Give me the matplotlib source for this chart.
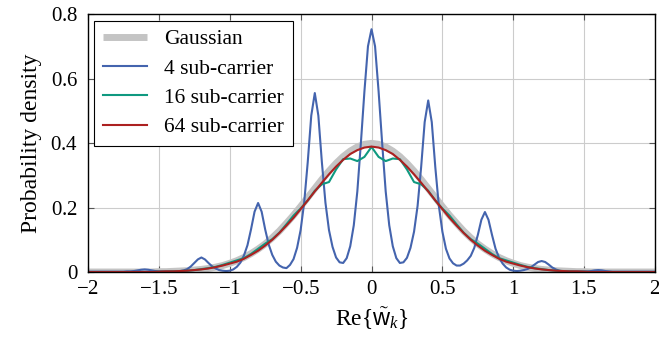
import numpy as np
import matplotlib
matplotlib.use("Agg")
import matplotlib.pyplot as plt
from matplotlib.ticker import FuncFormatter

"""
  PDF of Re{w_k} for different numbers of sub-carriers
"""
plt.rcParams['font.family'] = ['Liberation Serif', 'DejaVu Serif']
plt.rcParams['mathtext.fontset'] = 'custom'
plt.rcParams['mathtext.rm'] = 'Liberation Serif'
plt.rcParams['mathtext.it'] = 'Liberation Serif:italic'
plt.rcParams['mathtext.sf'] = 'Liberation Sans'

# x grid of the 4 sub-carrier curve: -2 .. 2 in steps of 0.025
x_fine = np.linspace(-2, 2, 161)
pdf_4 = [
    0.001, 0.001, 0.001, 0.001, 0.001, 0.001, 0.001, 0.001, 0.001, 0.001,
    0.001, 0.002, 0.002, 0.003, 0.005, 0.007, 0.008, 0.007, 0.005, 0.003,
    0.002, 0.002, 0.002, 0.002, 0.002, 0.002, 0.003, 0.005, 0.009, 0.017,
    0.028, 0.039, 0.045, 0.039, 0.028, 0.018, 0.011, 0.006, 0.004, 0.003,
    0.004, 0.008, 0.016, 0.029, 0.051, 0.083, 0.132, 0.187, 0.214, 0.187,
    0.132, 0.085, 0.053, 0.032, 0.020, 0.014, 0.012, 0.022, 0.040, 0.075,
    0.130, 0.215, 0.340, 0.485, 0.555, 0.485, 0.340, 0.215, 0.130, 0.078,
    0.045, 0.030, 0.028, 0.043, 0.080, 0.145, 0.250, 0.400, 0.560, 0.700,
    0.753, 0.700, 0.560, 0.400, 0.250, 0.145, 0.080, 0.043, 0.028, 0.030,
    0.044, 0.075, 0.125, 0.205, 0.325, 0.465, 0.532, 0.465, 0.325, 0.205,
    0.125, 0.072, 0.042, 0.027, 0.020, 0.020, 0.026, 0.036, 0.050, 0.075,
    0.115, 0.162, 0.186, 0.162, 0.115, 0.072, 0.044, 0.026, 0.014, 0.007,
    0.004, 0.003, 0.004, 0.006, 0.009, 0.015, 0.023, 0.031, 0.034, 0.031,
    0.023, 0.014, 0.008, 0.004, 0.002, 0.002, 0.002, 0.002, 0.002, 0.002,
    0.002, 0.002, 0.003, 0.005, 0.006, 0.005, 0.003, 0.002, 0.001, 0.001,
    0.001, 0.001, 0.001, 0.001, 0.001, 0.001, 0.001, 0.001, 0.001, 0.001,
    0.001,
]

# x grid of the other curves: -2 .. 2 in steps of 0.05
x_coarse = np.linspace(-2, 2, 81)
pdf_gauss = [
    0.000, 0.000, 0.000, 0.000, 0.000, 0.000, 0.000, 0.000, 0.000, 0.000,
    0.001, 0.001, 0.002, 0.003, 0.004, 0.006, 0.008, 0.011, 0.015, 0.020,
    0.027, 0.035, 0.045, 0.057, 0.071, 0.087, 0.106, 0.127, 0.151, 0.176,
    0.203, 0.231, 0.259, 0.287, 0.313, 0.337, 0.358, 0.375, 0.388, 0.396,
    0.399,
    0.396, 0.388, 0.375, 0.358, 0.337, 0.313, 0.287, 0.259, 0.231, 0.203,
    0.176, 0.151, 0.127, 0.106, 0.087, 0.071, 0.057, 0.045, 0.035, 0.027,
    0.020, 0.015, 0.011, 0.008, 0.006, 0.004, 0.003, 0.002, 0.001, 0.001,
    0.000, 0.000, 0.000, 0.000, 0.000, 0.000, 0.000, 0.000, 0.000, 0.000,
]
pdf_16 = [
    0.000, 0.000, 0.000, 0.000, 0.000, 0.000, 0.000, 0.000, 0.000, 0.000,
    0.001, 0.001, 0.002, 0.003, 0.004, 0.006, 0.009, 0.012, 0.016, 0.022,
    0.029, 0.036, 0.043, 0.056, 0.072, 0.088, 0.102, 0.122, 0.148, 0.175,
    0.197, 0.222, 0.252, 0.272, 0.279, 0.318, 0.350, 0.352, 0.344, 0.357,
    0.388,
    0.357, 0.344, 0.352, 0.350, 0.318, 0.279, 0.272, 0.252, 0.222, 0.197,
    0.175, 0.148, 0.122, 0.102, 0.088, 0.072, 0.056, 0.043, 0.036, 0.029,
    0.022, 0.016, 0.012, 0.009, 0.006, 0.004, 0.003, 0.002, 0.001, 0.001,
    0.000, 0.000, 0.000, 0.000, 0.000, 0.000, 0.000, 0.000, 0.000, 0.000,
]
pdf_64 = [
    0.000, 0.000, 0.000, 0.000, 0.000, 0.000, 0.000, 0.000, 0.000, 0.000,
    0.001, 0.002, 0.002, 0.003, 0.004, 0.006, 0.008, 0.011, 0.015, 0.020,
    0.026, 0.032, 0.041, 0.053, 0.066, 0.082, 0.100, 0.121, 0.144, 0.168,
    0.195, 0.222, 0.250, 0.277, 0.303, 0.327, 0.348, 0.366, 0.378, 0.386,
    0.389,
    0.386, 0.378, 0.366, 0.348, 0.327, 0.303, 0.277, 0.250, 0.222, 0.195,
    0.168, 0.144, 0.121, 0.100, 0.082, 0.066, 0.053, 0.041, 0.032, 0.026,
    0.020, 0.015, 0.011, 0.008, 0.006, 0.004, 0.003, 0.002, 0.002, 0.001,
    0.000, 0.000, 0.000, 0.000, 0.000, 0.000, 0.000, 0.000, 0.000, 0.000,
]

fig = plt.figure(figsize=(6.59, 3.43), dpi=100)
ax1 = fig.add_axes([0.1335, 0.207, 0.8605, 0.752])

ax1.plot(x_coarse, pdf_gauss, color='#c4c4c4', lw=5, solid_capstyle='butt', label='Gaussian')
ax1.plot(x_fine, pdf_4, color='#4464ae', lw=1.5, label='4 sub-carrier')
ax1.plot(x_coarse, pdf_16, color='#0f9980', lw=1.5, label='16 sub-carrier')
ax1.plot(x_coarse, pdf_64, color='#ac2020', lw=1.5, label='64 sub-carrier')

ax1.set_xlim(-2, 2)
ax1.set_ylim(0, 0.8)
ax1.set_xticks(np.arange(-2, 2.01, 0.5))
ax1.set_yticks(np.arange(0, 0.81, 0.2))
fmt = FuncFormatter(lambda v, pos: '$%g$' % round(v, 2))
ax1.xaxis.set_major_formatter(fmt)
ax1.yaxis.set_major_formatter(fmt)
ax1.tick_params(direction='in', length=4, width=0.8, labelsize=15, top=True, right=True,
                color='#555555')
ax1.tick_params(axis='x', pad=6)
ax1.tick_params(axis='y', pad=7)
ax1.grid(True, color='#cccccc', lw=0.8)
ax1.set_axisbelow(True)
for s in ax1.spines.values():
    s.set_linewidth(1.0)

ax1.set_xlabel(r'$\mathrm{Re}\{\tilde{\mathsf{w}}_k\}$', fontsize=17, labelpad=5)
ax1.set_ylabel('Probability density', fontsize=17, labelpad=6)

leg = ax1.legend(loc='upper left', fontsize=15.5, fancybox=False, edgecolor='black',
                 framealpha=1, handlelength=2.05, labelspacing=0.43, borderaxespad=0.3)
leg.get_frame().set_linewidth(0.8)

fig.savefig('out.png', dpi=100)
